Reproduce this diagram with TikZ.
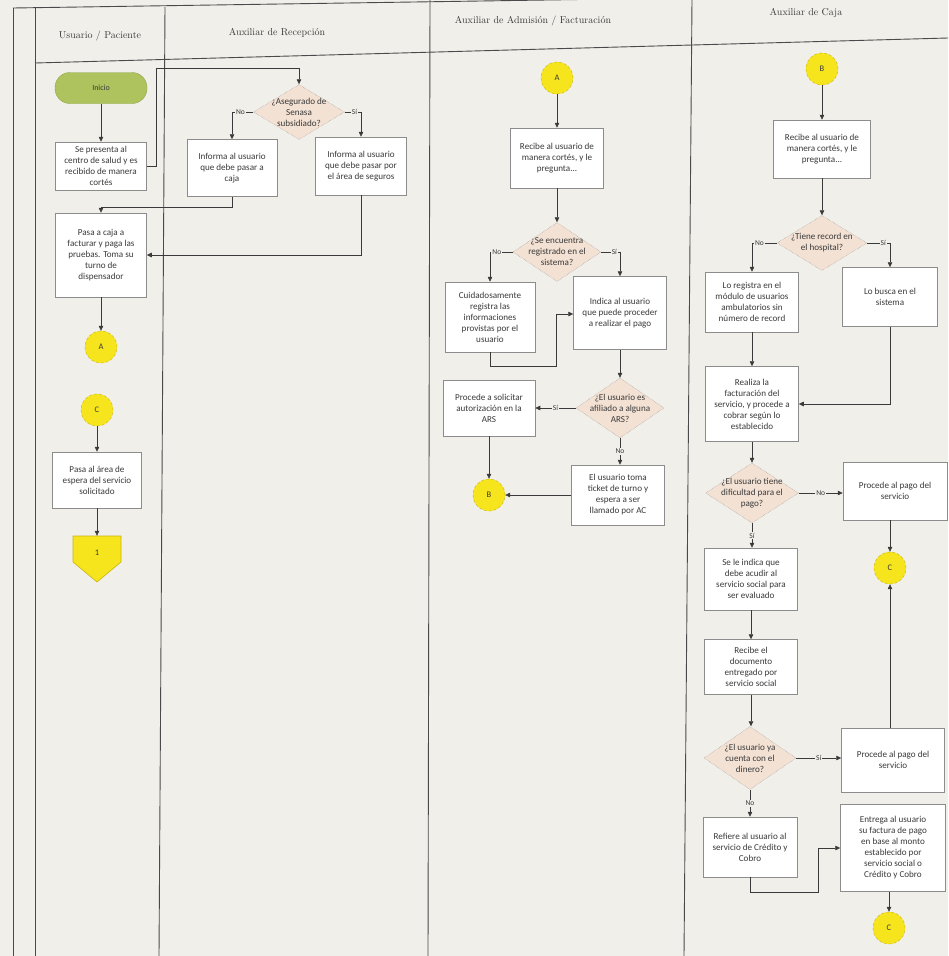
\documentclass[tikz,border=0pt]{standalone}
\usepackage{fontspec}
\newfontfamily\cf{Carlito}
\usetikzlibrary{arrows.meta,shapes.geometric}
\definecolor{paper}{HTML}{F0EFE9}
\definecolor{lane}{HTML}{4A4A4A}
\definecolor{bord}{HTML}{8C8C8C}
\definecolor{peach}{HTML}{F3E1D3}
\definecolor{yel}{HTML}{F6E41C}
\definecolor{yelb}{HTML}{C9B510}
\definecolor{grn}{HTML}{AEC35E}
\definecolor{grnb}{HTML}{8FA547}
\definecolor{ink}{HTML}{3A3A3A}
\tikzset{
 box/.style={draw=bord, fill=white, line width=0.5pt, align=center, font=\cf\fontsize{9.1}{11}\selectfont, text=ink, inner sep=2pt},
 dia/.style={diamond, draw=bord, densely dotted, fill=peach, inner sep=0pt},
 diat/.style={align=center, font=\cf\fontsize{9.1}{11}\selectfont, text=ink, inner sep=0pt},
 con/.style={circle, fill=yel, draw=yelb, densely dashed, minimum size=32pt, inner sep=0pt, font=\cf\fontsize{8.5}{9}\selectfont, text=ink},
 arr/.style={draw=ink, line width=0.6pt, -{Triangle[length=5pt,width=4.5pt]}},
 lbl/.style={fill=paper, inner sep=1pt, font=\cf\fontsize{7.5}{8}\selectfont, text=ink},
 hdr/.style={font=\fontsize{10}{12}\selectfont, text=ink},
 lanel/.style={draw=lane, line width=0.9pt},
}
\begin{document}
\begin{tikzpicture}[x=1pt,y=-1pt]
\useasboundingbox (0,0) rectangle (948,956);
\fill[paper] (0,0) rectangle (948,956);
% lanes
\draw[lanel] (13,8) -- (13,956);
\draw[lanel] (35,8) -- (35,956);
\draw[lanel] (165,7) -- (159,956);
\draw[lanel] (430,0) -- (428,956);
\draw[lanel] (692,0) -- (684,956);
\draw[lanel] (13,8) -- (948,-6);
\draw[lanel] (35,63) -- (948,38);
\node[hdr] (h1) at (100,36) {Usuario / Paciente};
\node[hdr] (h2) at (277,33) {Auxiliar de Recepción};
\node[hdr] (h3) at (533,21) {Auxiliar de Admisión / Facturación};
\node[hdr] (h4) at (806,13) {Auxiliar de Caja};
% Usuario
\node[draw=grnb, fill=grn, rounded corners=15pt, minimum width=92pt, minimum height=31pt, font=\cf\fontsize{8}{9}\selectfont, text=ink] (ini) at (101,88) {Inicio};
\node[box, minimum width=91pt, minimum height=48pt] (u1) at (101,166) {Se presenta al\\centro de salud y es\\recibido de manera\\cortés};
\node[box, minimum width=91pt, minimum height=84pt] (u2) at (101,255) {Pasa a caja a\\facturar y paga las\\pruebas. Toma su\\turno de\\dispensador};
\node[con] (uA) at (101,347) {A};
\node[con] (uC) at (97,410) {C};
\node[box, minimum width=89pt, minimum height=56pt] (u3) at (97,480) {Pasa al área de\\espera del servicio\\solicitado};
\filldraw[fill=yel, draw=yelb, line width=0.6pt] (73,536) -- (121,536) -- (121,562) -- (97,582) -- (73,562) -- cycle;
\node[minimum width=48pt, minimum height=34pt, inner sep=0pt, font=\cf\fontsize{8.5}{9}\selectfont, text=ink] (u4) at (97,553) {1};
% Recepcion
\node[dia, minimum width=91pt, minimum height=55pt] (r0) at (299,112) {};
\node[diat] (r0t) at (r0) {¿Asegurado de\\Senasa\\subsidiado?};
\node[box, minimum width=90pt, minimum height=57pt] (rN) at (232,168) {Informa al usuario\\que debe pasar a\\caja};
\node[box, minimum width=91pt, minimum height=58pt] (rS) at (361,166) {Informa al usuario\\que debe pasar por\\el área de seguros};
% Admision
\node[con] (aA) at (557,78) {A};
\node[box, minimum width=93pt, minimum height=60pt] (a1) at (557,158) {Recibe al usuario de\\manera cortés, y le\\pregunta...};
\node[dia, minimum width=88pt, minimum height=59pt] (a2) at (557,252) {};
\node[diat] (a2t) at (a2) {¿Se encuentra\\registrado en el\\sistema?};
\node[box, minimum width=90pt, minimum height=70pt] (aL) at (490,317) {Cuidadosamente\\registra las\\informaciones\\provistas por el\\usuario};
\node[box, minimum width=93pt, minimum height=73pt] (aR) at (620,313) {Indica al usuario\\que puede proceder\\a realizar el pago};
\node[dia, minimum width=88pt, minimum height=60pt] (a3) at (620,408) {};
\node[diat] (a3t) at (a3) {¿El usuario es\\afiliado a alguna\\ARS?};
\node[box, minimum width=92pt, minimum height=56pt] (aS) at (489,408) {Procede a solicitar\\autorización en la\\ARS};
\node[con] (aB) at (489,495) {B};
\node[box, minimum width=93pt, minimum height=60pt] (aT) at (618,495) {El usuario toma\\ticket de turno y\\espera a ser\\llamado por AC};
% Caja
\node[con] (cB) at (822,69) {B};
\node[box, minimum width=97pt, minimum height=58pt] (c1) at (822,149) {Recibe al usuario de\\manera cortés, y le\\pregunta...};
\node[dia, minimum width=90pt, minimum height=55pt] (c2) at (822,243) {};
\node[diat] (c2t) at (c2) {¿Tiene record en\\el hospital?};
\node[box, minimum width=93pt, minimum height=60pt] (cN) at (752,302) {Lo registra en el\\módulo de usuarios\\ambulatorios sin\\número de record};
\node[box, minimum width=95pt, minimum height=59pt] (cS) at (890,297) {Lo busca en el\\sistema};
\node[box, minimum width=93pt, minimum height=75pt] (cF) at (752,404) {Realiza la\\facturación del\\servicio, y procede a\\cobrar según lo\\establecido};
\node[dia, minimum width=93pt, minimum height=60pt] (c3) at (752,493) {};
\node[diat] (c3t) at (c3) {¿El usuario tiene\\dificultad para el\\pago?};
\node[box, minimum width=104pt, minimum height=58pt] (cP1) at (895,491) {Procede al pago del\\servicio};
\node[con] (cC1) at (890,568) {C};
\node[box, minimum width=93pt, minimum height=62pt] (cI) at (751,579) {Se le indica que\\debe acudir al\\servicio social para\\ser evaluado};
\node[box, minimum width=93pt, minimum height=55pt] (cD) at (751,667) {Recibe el\\documento\\entregado por\\servicio social};
\node[dia, minimum width=92pt, minimum height=63pt] (c4) at (750,758) {};
\node[diat] (c4t) at (c4) {¿El usuario ya\\cuenta con el\\dinero?};
\node[box, minimum width=103pt, minimum height=64pt] (cP2) at (893,760) {Procede al pago del\\servicio};
\node[box, minimum width=94pt, minimum height=60pt] (cR) at (750,847) {Refiere al usuario al\\servicio de Crédito y\\Cobro};
\node[box, minimum width=105pt, minimum height=87pt] (cE) at (893,848) {Entrega al usuario\\su factura de pago\\en base al monto\\establecido por\\servicio social o\\Crédito y Cobro};
\node[con] (cC2) at (889,928) {C};
% connectors Usuario / Recepcion
\coordinate (k1) at (156,68);
\draw[arr] (ini) -- (u1);
\draw[arr] (u1.east) -| (k1) -| (r0.north);
\draw[arr] (r0.west) -| node[lbl,pos=0.3]{No} (rN.north);
\draw[arr] (r0.east) -| node[lbl,pos=0.3]{Sí} (rS.north);
\draw[arr] (rN.south) -- ++(0,11) -| (u2.north);
\draw[arr] (rS.south) |- (u2.east);
\draw[arr] (u2) -- (uA);
\draw[arr] (uC) -- (u3);
\draw[arr] (u3.south) -- (u4.north);
% Admision
\coordinate (lp) at (556,314);
\draw[arr] (aA) -- (a1);
\draw[arr] (a1) -- (a2);
\draw[arr] (a2.west) -| node[lbl,pos=0.35]{No} (aL.north);
\draw[arr] (a2.east) -| node[lbl,pos=0.35]{Sí} (aR.north);
\draw[arr] (aL.south) -- ++(0,14) -| (lp) -- (lp -| aR.west);
\draw[arr] (aR) -- (a3);
\draw[arr] (a3.west) -- node[lbl]{Sí} (aS.east);
\draw[arr] (a3.south) -- node[lbl]{No} (a3.south |- aT.north);
\draw[arr] (aS) -- (aB);
\draw[arr] (aT.west) -- (aB.east);
% Caja
\coordinate (lp2) at (818,848);
\draw[arr] (cB) -- (c1);
\draw[arr] (c1) -- (c2);
\draw[arr] (c2.west) -| node[lbl,pos=0.35]{No} (cN.north);
\draw[arr] (c2.east) -| node[lbl,pos=0.35]{Sí} (cS.north);
\draw[arr] (cN) -- (cF);
\draw[arr] (cS.south) |- (cF.east);
\draw[arr] (cF) -- (c3);
\draw[arr] (c3.east) -- node[lbl]{No} (c3.east -| cP1.west);
\draw[arr] (cC1 |- cP1.south) -- (cC1.north);
\draw[arr] (c3.south) -- node[lbl]{Sí} (c3.south |- cI.north);
\draw[arr] (cI) -- (cD);
\draw[arr] (cD.south) -- (cD.south |- c4.north);
\draw[arr] (c4.east) -- node[lbl]{Sí} (c4.east -| cP2.west);
\draw[arr] (cC1 |- cP2.north) -- (cC1.south);
\draw[arr] (c4.south) -- node[lbl]{No} (c4.south |- cR.north);
\draw[arr] (cR.south) -- ++(0,15) -| (lp2) -- (lp2 -| cE.west);
\draw[arr] (cC2 |- cE.south) -- (cC2.north);
\end{tikzpicture}
\end{document}
